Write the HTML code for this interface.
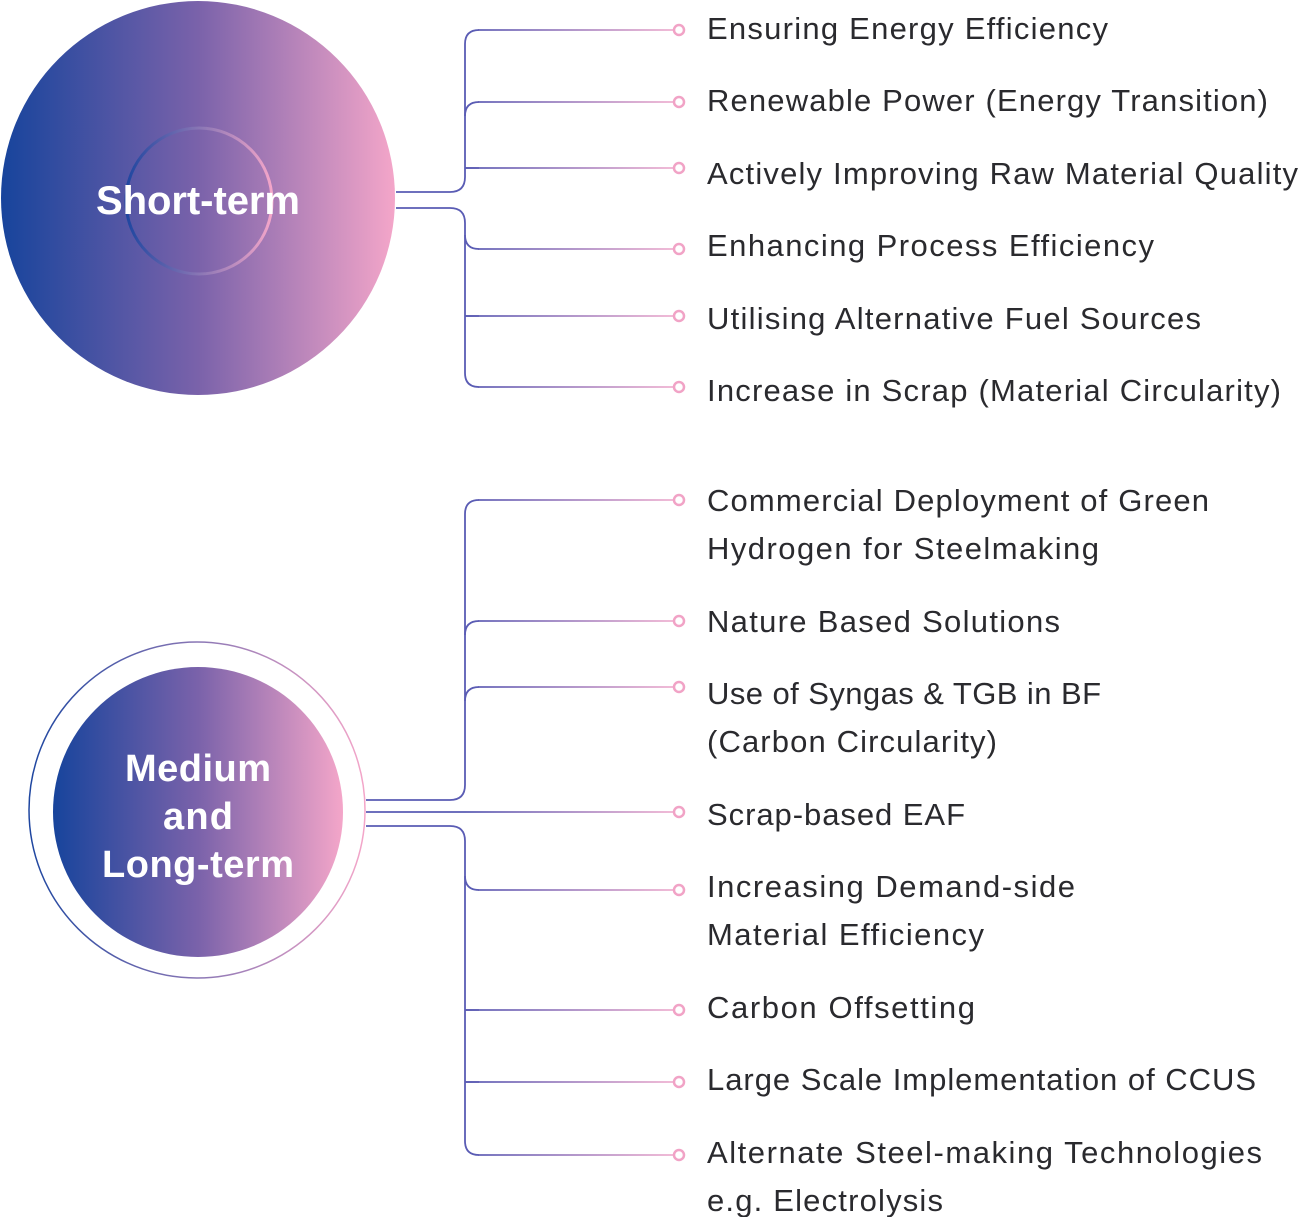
<!DOCTYPE html>
<html><head><meta charset="utf-8"><style>
html,body{margin:0;padding:0;background:#fff;}
svg{display:block;}
.t{font-family:"Liberation Sans",sans-serif;font-size:31px;fill:#2a2a2e;}
</style></head><body>
<svg width="1300" height="1217" viewBox="0 0 1300 1217" xmlns="http://www.w3.org/2000/svg">
<defs>
<linearGradient id="fill" x1="0" y1="0" x2="1" y2="0">
<stop offset="0" stop-color="#17449c"/><stop offset="0.5" stop-color="#7a62aa"/><stop offset="1" stop-color="#f4a6c9"/>
</linearGradient>
<linearGradient id="ring" x1="0" y1="0" x2="1" y2="0">
<stop offset="0" stop-color="#1e46a0"/><stop offset="1" stop-color="#f4a6c9"/>
</linearGradient>
<linearGradient id="ln" gradientUnits="userSpaceOnUse" x1="465" y1="0" x2="680" y2="0">
<stop offset="0" stop-color="#5a5cb4"/><stop offset="1" stop-color="#f4b4d2"/>
</linearGradient>
</defs>

<circle cx="198" cy="198" r="197" fill="url(#fill)"/>
<circle cx="199" cy="201" r="73" fill="none" stroke="url(#ring)" stroke-width="3"/>
<text x="198" y="214" text-anchor="middle" font-family="Liberation Sans,sans-serif" font-weight="bold" font-size="40" fill="#fff" textLength="204">Short-term</text>

<circle cx="197" cy="810" r="168" fill="none" stroke="url(#ring)" stroke-width="1.5"/>
<circle cx="198" cy="812" r="145" fill="url(#fill)"/>
<g font-family="Liberation Sans,sans-serif" font-weight="bold" font-size="38" fill="#fff" text-anchor="middle">
<text x="198" y="781" textLength="146">Medium</text>
<text x="198" y="829" textLength="70">and</text>
<text x="198" y="877" textLength="192">Long-term</text>
</g>

<g fill="none" stroke="#5a5cb4" stroke-width="1.8">
<path d="M396 192 H450 Q465 192 465 177 V44 Q465 30 479 30"/>
<path d="M396 208 H450 Q465 208 465 223 V373 Q465 387 479 387"/>
<path d="M465 116 Q465 102 479 102"/>
<path d="M465 235 Q465 249 479 249"/>
<path d="M465 168 H479"/>
<path d="M465 316 H479"/>
<path d="M366 800 H450 Q465 800 465 785 V514 Q465 500 479 500"/>
<path d="M366 826 H450 Q465 826 465 841 V1141 Q465 1155 479 1155"/>
<path d="M465 635 Q465 621 479 621"/>
<path d="M465 701 Q465 687 479 687"/>
<path d="M465 876 Q465 890 479 890"/>
<path d="M465 1010 H479"/>
<path d="M465 1082 H479"/>
</g>
<g fill="none" stroke="url(#ln)" stroke-width="1.8">
<path d="M478 30H674M478 102H674M466 168H674M478 249H674M466 316H674M478 387H674"/>
<path d="M478 500H674M478 621H674M478 687H674M366 812H674M478 890H674M466 1010H674M466 1082H674M478 1155H674"/>
</g>
<g fill="#fff" stroke="#f1a3c6" stroke-width="2.5">
<circle cx="679" cy="30" r="5"/><circle cx="679" cy="102" r="5"/><circle cx="679" cy="168" r="5"/>
<circle cx="679" cy="249" r="5"/><circle cx="679" cy="316" r="5"/><circle cx="679" cy="387" r="5"/>
<circle cx="679" cy="500" r="5"/><circle cx="679" cy="621" r="5"/><circle cx="679" cy="687" r="5"/>
<circle cx="679" cy="812" r="5"/><circle cx="679" cy="890" r="5"/><circle cx="679" cy="1010" r="5"/>
<circle cx="679" cy="1082" r="5"/><circle cx="679" cy="1155" r="5"/>
</g>

<g class="t">
<text x="707" y="39" textLength="401">Ensuring Energy Efficiency</text>
<text x="707" y="111" textLength="561">Renewable Power (Energy Transition)</text>
<text x="707" y="184" textLength="591">Actively Improving Raw Material Quality</text>
<text x="707" y="256" textLength="447">Enhancing Process Efficiency</text>
<text x="707" y="329" textLength="494">Utilising Alternative Fuel Sources</text>
<text x="707" y="401" textLength="574">Increase in Scrap (Material Circularity)</text>
<text x="707" y="511" textLength="502">Commercial Deployment of Green</text>
<text x="707" y="559" textLength="392">Hydrogen for Steelmaking</text>
<text x="707" y="632" textLength="353">Nature Based Solutions</text>
<text x="707" y="704" textLength="394">Use of Syngas &amp; TGB in BF</text>
<text x="707" y="752" textLength="290">(Carbon Circularity)</text>
<text x="707" y="825" textLength="258">Scrap-based EAF</text>
<text x="707" y="897" textLength="368">Increasing Demand-side</text>
<text x="707" y="945" textLength="277">Material Efficiency</text>
<text x="707" y="1018" textLength="268">Carbon Offsetting</text>
<text x="707" y="1090" textLength="549">Large Scale Implementation of CCUS</text>
<text x="707" y="1163" textLength="555">Alternate Steel-making Technologies</text>
<text x="707" y="1211" textLength="236">e.g. Electrolysis</text>
</g>
</svg>
</body></html>
